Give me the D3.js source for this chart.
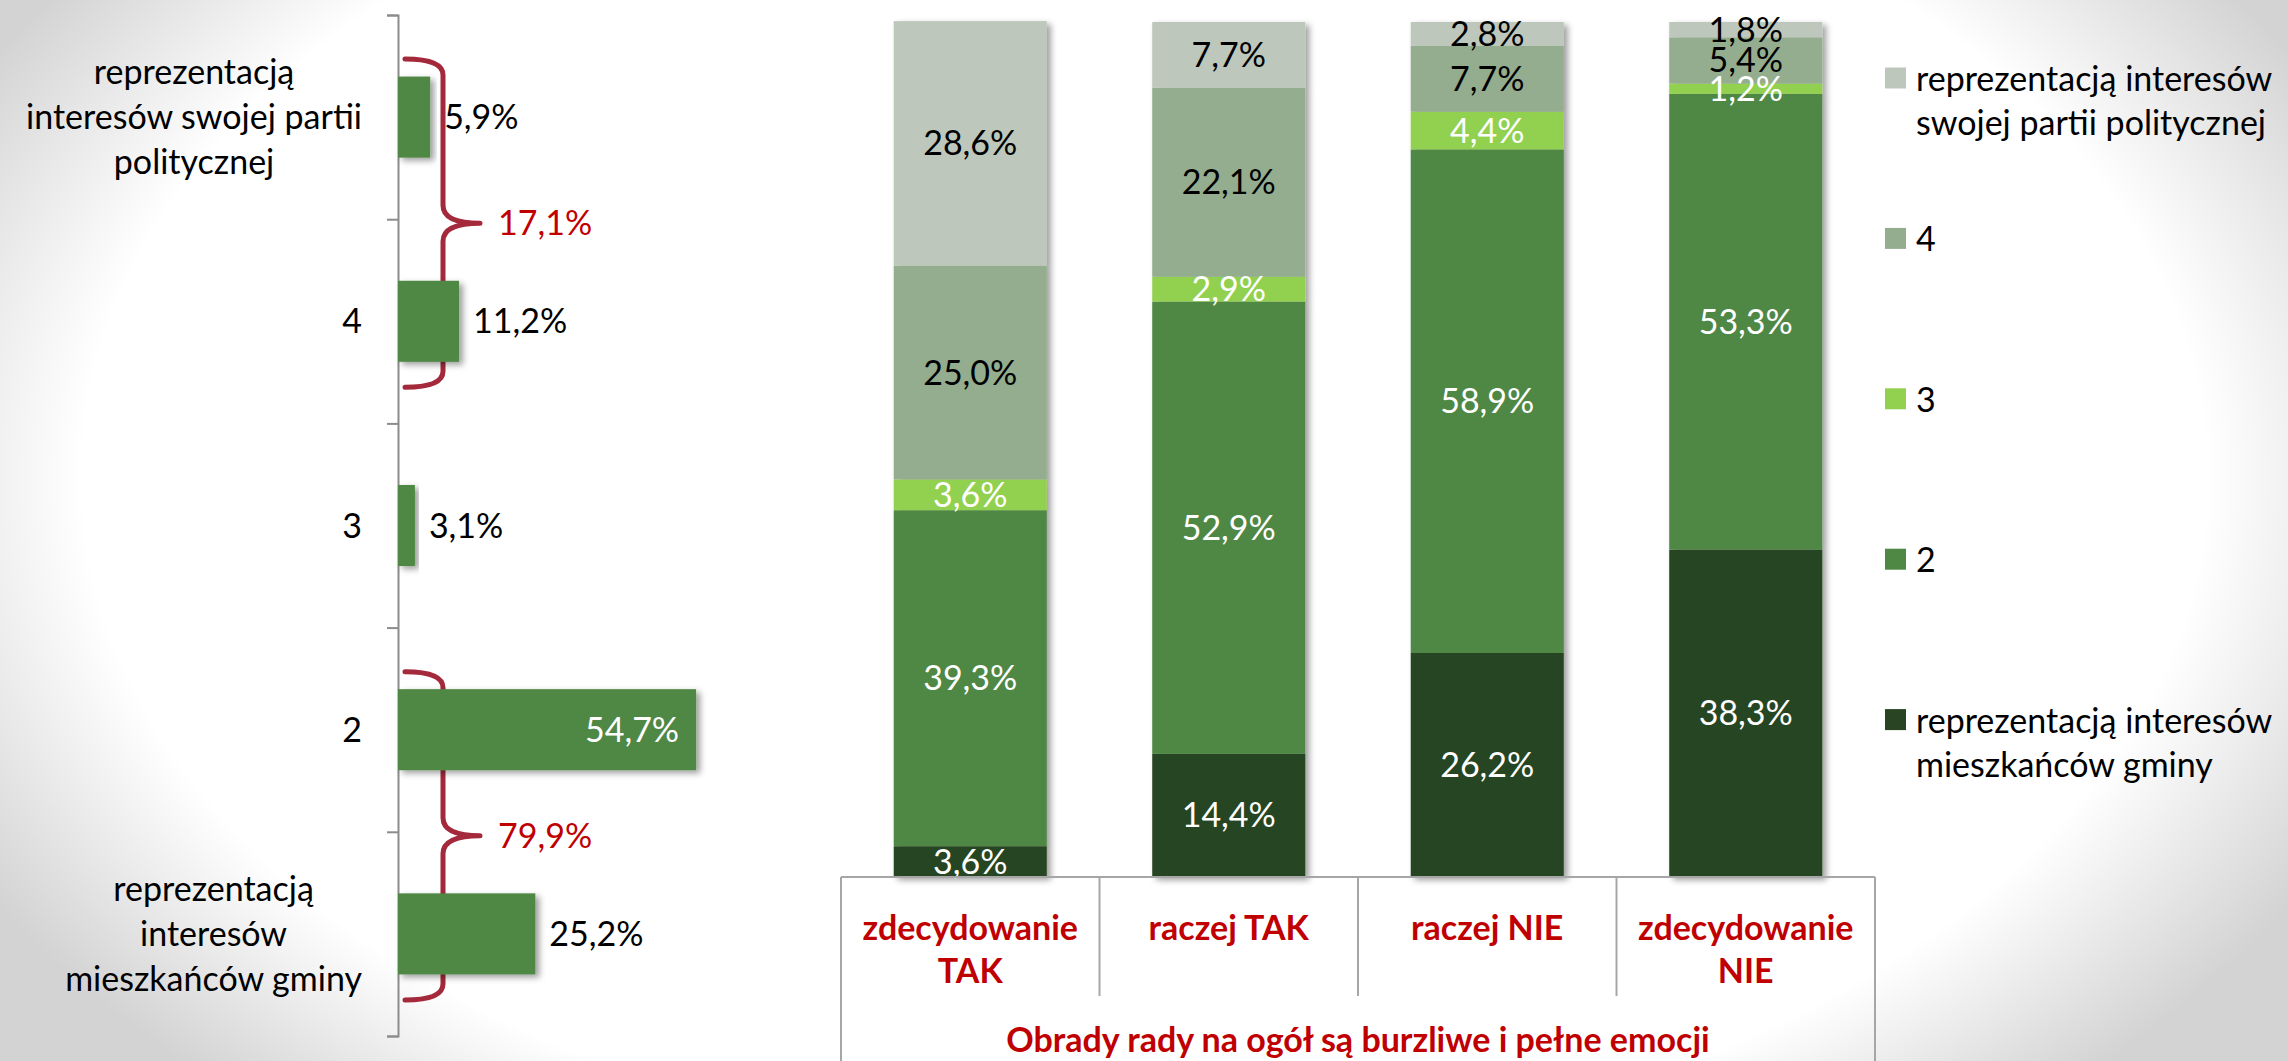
<!DOCTYPE html>
<html>
<head>
<meta charset="utf-8">
<script src="https://cdn.jsdelivr.net/npm/d3@7"></script>
<style>
  html, body { margin: 0; padding: 0; }
  body {
    width: 2288px; height: 1061px; overflow: hidden;
    background: radial-gradient(ellipse 58% 80% at 50% 45%, #ffffff 80%, #d3d3d3 100%);
  }
  svg text { font-family: Lato, "Open Sans", sans-serif; }
</style>
</head>
<body>
<svg id="chart" width="2288" height="1061"></svg>
<script>
// ---- Left panel: answers on the scale (party interests ... residents' interests)
const scaleLabels = [
  ["reprezentacją", "interesów swojej partii", "politycznej"],
  ["4"],
  ["3"],
  ["2"],
  ["reprezentacją", "interesów", "mieszkańców gminy"]
];
const scaleValues = [5.9, 11.2, 3.1, 54.7, 25.2];
// pairs of answers summed under a brace
const braceGroups = [[0, 1], [3, 4]];

// ---- Right panel: the same scale split by opinion on council sessions
const groupLabels = [["zdecydowanie", "TAK"], ["raczej TAK"], ["raczej NIE"], ["zdecydowanie", "NIE"]];
const groupTitle = "Obrady rady na ogół są burzliwe i pełne emocji";
// series from the bottom of the stack to the top
const seriesNames = [
  ["reprezentacją interesów", "mieszkańców gminy"],
  ["2"],
  ["3"],
  ["4"],
  ["reprezentacją interesów", "swojej partii politycznej"]
];
const seriesResidents = [3.6, 14.4, 26.2, 38.3];
const seriesTwo       = [39.3, 52.9, 58.9, 53.3];
const seriesThree     = [3.6, 2.9, 4.4, 1.2];
const seriesFour      = [25.0, 22.1, 7.7, 5.4];
const seriesParty     = [28.6, 7.7, 2.8, 1.8];
const seriesValues = [seriesResidents, seriesTwo, seriesThree, seriesFour, seriesParty];

// ---- styling
const palette   = ["#284423", "#4f8744", "#92d050", "#93ad8e", "#bdc7bb"];
const labelInk  = ["#ffffff", "#ffffff", "#ffffff", "#000000", "#000000"];
const barGreen  = "#4f8744";
const braceRed  = "#a3293b";
const accentRed = "#c00000";
const FS = 34;

const fmt = v => d3.format(".1f")(v).replace(".", ",") + "%";
const svg = d3.select("#chart");

// soft drop shadow under the bars
const defs = svg.append("defs");
const shadow = defs.append("filter").attr("id", "shadow")
  .attr("x", "-10%").attr("y", "-10%").attr("width", "130%").attr("height", "130%");
shadow.append("feDropShadow").attr("dx", 4).attr("dy", 3).attr("stdDeviation", 3)
  .attr("flood-color", "#000").attr("flood-opacity", 0.38);

// ================= LEFT PANEL =================
const axisX = 398;
const yL = d3.scaleBand().domain(d3.range(scaleValues.length))
  .range([15, 1036]).paddingInner(0.603).paddingOuter(0.3015);
const xL = d3.scaleLinear().domain([0, 60]).range([axisX, axisX + 327]);
const yEdges = d3.scaleLinear().domain([0, scaleValues.length]).range([15, 1036]);
const mid = i => yL(i) + yL.bandwidth() / 2;

const left = svg.append("g");

// category axis with ticks between categories
const ax = left.append("g").attr("transform", `translate(${axisX},0)`)
  .call(d3.axisLeft(yEdges).tickValues(d3.range(scaleValues.length + 1)).tickSize(11).tickFormat(""));
ax.selectAll("path,line").attr("stroke", "#8c8c8c").attr("stroke-width", 2);

// category labels: right-aligned blocks with centred lines
scaleLabels.forEach((lines, i) => {
  const t = left.append("text").attr("font-size", FS).attr("fill", "#000").attr("text-anchor", "middle");
  const lh = 45;
  const y0 = mid(i) - (lines.length - 1) * lh / 2;
  lines.forEach((ln, k) => t.append("tspan").attr("y", y0 + k * lh + 12).text(ln));
  let w = 0;
  t.selectAll("tspan").each(function () { w = Math.max(w, this.getComputedTextLength()); });
  t.selectAll("tspan").attr("x", 362 - w / 2);
});

// braces summing pairs of answers (drawn behind the bars)
braceGroups.forEach(g => {
  const top = mid(g[0]) - 58, bot = mid(g[1]) + 66, tip = (top + bot) / 2;
  const x0 = axisX + 7, xv = axisX + 45, xt = axisX + 82;
  const p = d3.path();
  p.moveTo(x0, top);
  p.quadraticCurveTo(xv, top, xv, top + 16);
  p.lineTo(xv, tip - 18);
  p.quadraticCurveTo(xv, tip, xt, tip);
  p.quadraticCurveTo(xv, tip, xv, tip + 18);
  p.lineTo(xv, bot - 16);
  p.quadraticCurveTo(xv, bot, x0, bot);
  left.append("path").attr("d", p.toString()).attr("fill", "none")
    .attr("stroke", braceRed).attr("stroke-width", 5)
    .attr("stroke-linecap", "round").attr("stroke-linejoin", "round");
  const sum = d3.sum(g, i => scaleValues[i]);
  left.append("text").attr("x", xt + 18).attr("y", tip + 12)
    .attr("font-size", FS).attr("fill", accentRed).text(fmt(sum));
});

// bars
left.append("g").selectAll("rect").data(scaleValues).join("rect")
  .attr("x", xL(0)).attr("y", (d, i) => yL(i))
  .attr("width", d => xL(d) - xL(0)).attr("height", yL.bandwidth())
  .attr("fill", barGreen).attr("filter", "url(#shadow)");

// value labels: inside the long bar, after the end of the others
left.append("g").selectAll("text").data(scaleValues).join("text")
  .attr("font-size", FS)
  .attr("y", (d, i) => mid(i) + 12)
  .attr("x", d => d > 40 ? xL(d) - 17 : xL(d) + 14)
  .attr("text-anchor", d => d > 40 ? "end" : "start")
  .attr("fill", d => d > 40 ? "#fff" : "#000")
  .text(fmt);

// ================= RIGHT PANEL =================
const nGroups = groupLabels.length;
const xR = d3.scaleBand().domain(d3.range(nGroups)).range([841, 1875])
  .paddingInner(0.408).paddingOuter(0.204);
const yR = d3.scaleLinear().domain([0, 100]).range([877, 22]);

const rows = d3.range(nGroups).map(j => seriesValues.map(s => s[j]));
const stacked = d3.stack().keys(d3.range(seriesValues.length))(rows);

const right = svg.append("g");
const cols = right.selectAll("g.col").data(d3.range(nGroups)).join("g")
  .attr("class", "col").attr("filter", "url(#shadow)");
cols.selectAll("rect").data(j => stacked.map((s, i) => ({ i, y0: s[j][0], y1: s[j][1], j })))
  .join("rect")
  .attr("x", d => xR(d.j)).attr("width", xR.bandwidth())
  .attr("y", d => yR(d.y1)).attr("height", d => yR(d.y0) - yR(d.y1))
  .attr("fill", d => palette[d.i]);

// segment labels
const segLabels = [];
stacked.forEach((s, i) => s.forEach((seg, j) => segLabels.push({ i, j, y0: seg[0], y1: seg[1], v: seriesValues[i][j] })));
right.append("g").selectAll("text").data(segLabels).join("text")
  .attr("font-size", FS).attr("text-anchor", "middle")
  .attr("x", d => xR(d.j) + xR.bandwidth() / 2)
  .attr("y", d => (yR(d.y0) + yR(d.y1)) / 2 + 12)
  .attr("fill", d => labelInk[d.i])
  .text(d => fmt(d.v));

// two-level category table below the bars
const x0R = xR.range()[0], stepR = xR.step();
const table = right.append("g").attr("stroke", "#a6a6a6").attr("stroke-width", 2);
table.append("line").attr("x1", x0R).attr("x2", x0R + stepR * nGroups).attr("y1", yR(0)).attr("y2", yR(0));
d3.range(nGroups + 1).forEach(k => {
  const outer = k === 0 || k === nGroups;
  table.append("line").attr("x1", x0R + k * stepR).attr("x2", x0R + k * stepR)
    .attr("y1", yR(0)).attr("y2", outer ? 1061 : 996);
});
groupLabels.forEach((lines, j) => {
  const t = right.append("text").attr("font-size", FS).attr("font-weight", 700)
    .attr("fill", accentRed).attr("text-anchor", "middle");
  lines.forEach((ln, k) => t.append("tspan")
    .attr("x", xR(j) + xR.bandwidth() / 2).attr("y", 928 + k * 43 + 12).text(ln));
});
right.append("text").attr("font-size", FS).attr("font-weight", 700)
  .attr("fill", accentRed).attr("text-anchor", "middle")
  .attr("x", x0R + stepR * nGroups / 2).attr("y", 1040 + 12).text(groupTitle);

// legend, top of the stack first
const legend = right.append("g");
const order = d3.range(seriesValues.length).reverse();
order.forEach((i, k) => {
  const cy = 78 + k * 160.4;
  legend.append("rect").attr("x", 1885).attr("y", cy - 10.5).attr("width", 21).attr("height", 21)
    .attr("fill", palette[i]);
  const t = legend.append("text").attr("font-size", FS).attr("fill", "#000");
  seriesNames[i].forEach((ln, m) => t.append("tspan").attr("x", 1916).attr("y", cy + 1 + m * 44 + 12).text(ln));
});
</script>
</body>
</html>
